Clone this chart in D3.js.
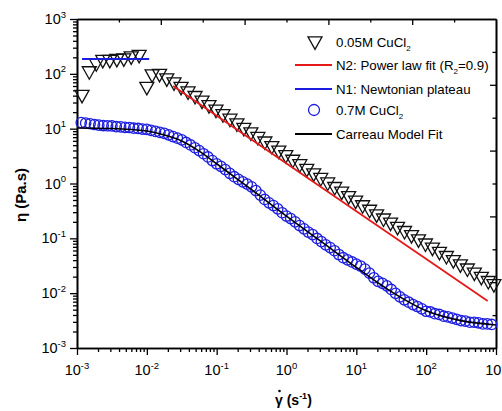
<!DOCTYPE html>
<html>
<head>
<meta charset="utf-8">
<script src="https://d3js.org/d3.v7.min.js"></script>
<style>
  html, body { margin: 0; padding: 0; background: #fff; }
  svg { display: block; }
  text { font-family: Arial, "Liberation Sans", sans-serif; fill: #000; }
</style>
</head>
<body>
<svg id="chart" width="502" height="411"></svg>
<script>
// ---- Data -------------------------------------------------------------
// 0.05M CuCl2: shear rate (1/s) and viscosity (Pa.s)
const triGamma = [0.00118, 0.0015, 0.00189, 0.00234, 0.00295, 0.00372, 0.00468, 0.00597, 0.00776,
  0.0100, 0.0119, 0.0152, 0.0193, 0.0245, 0.0309, 0.0389, 0.049, 0.0617, 0.0776, 0.0977,
  0.123, 0.155, 0.195, 0.245, 0.309, 0.389, 0.49, 0.617, 0.776, 0.977, 1.23, 1.55, 1.95,
  2.45, 3.09, 3.89, 4.9, 6.17, 7.76, 9.77, 12.3, 15.5, 19.5, 24.5, 30.9, 38.9, 49, 61.7,
  77.6, 97.7, 123, 155, 195, 245, 309, 389, 490, 617, 776, 933];
const triEta = [42, 113, 158, 182, 182, 190, 194, 211, 225,
  58.7, 99, 101, 84, 71, 58.6, 48.4, 40.0, 33.0, 27.3, 22.5,
  18.6, 15.4, 12.7, 10.5, 8.67, 7.16, 5.92, 4.89, 4.04, 3.33, 2.75, 2.28, 1.88,
  1.55, 1.28, 1.06, 0.875, 0.723, 0.597, 0.493, 0.407, 0.337, 0.278, 0.233, 0.196, 0.164, 0.138, 0.116,
  0.0973, 0.0817, 0.0685, 0.0575, 0.0483, 0.0406, 0.034, 0.0286, 0.024, 0.0201, 0.0169, 0.0148];

// 0.7M CuCl2: shear rate (1/s) and viscosity (Pa.s)
const circGamma = [0.00115, 0.00133, 0.00154, 0.00178, 0.00205, 0.00237, 0.00274, 0.00316, 0.00365,
  0.00422, 0.00487, 0.00562, 0.00649, 0.0075, 0.00866, 0.01, 0.0115, 0.0133, 0.0154, 0.0178,
  0.0205, 0.0237, 0.0274, 0.0316, 0.0365, 0.0422, 0.0487, 0.0562, 0.0649, 0.075, 0.0866, 0.1,
  0.115, 0.133, 0.154, 0.178, 0.205, 0.237, 0.274, 0.316, 0.365, 0.422, 0.487, 0.562, 0.649,
  0.75, 0.866, 1, 1.15, 1.33, 1.54, 1.78, 2.05, 2.37, 2.74, 3.16, 3.65, 4.22, 4.87, 5.62,
  6.49, 7.5, 8.66, 10, 11.5, 13.3, 15.4, 17.8, 20.5, 23.7, 27.4, 31.6, 36.5, 42.2, 48.7,
  56.2, 64.9, 75, 86.6, 100, 115, 133, 154, 178, 205, 237, 274, 316, 365, 422, 487, 562,
  649, 750, 866];
const circEta = [12.9, 12.6, 12.3, 11.9, 11.6, 11.4, 11.3, 11.2, 10.9,
  10.8, 10.6, 10.5, 10.2, 10.1, 9.84, 9.70, 9.31, 8.91, 8.55, 8.20,
  7.71, 7.16, 6.71, 6.24, 5.61, 5.05, 4.49, 3.98, 3.49, 3.05, 2.62, 2.29,
  2.05, 1.79, 1.53, 1.33, 1.19, 1.07, 0.975, 0.871, 0.741, 0.615, 0.512, 0.445, 0.396,
  0.345, 0.293, 0.255, 0.229, 0.200, 0.171, 0.149, 0.130, 0.117, 0.0995, 0.0871, 0.0761, 0.0679, 0.0594, 0.0507,
  0.0443, 0.0405, 0.0371, 0.0339, 0.0313, 0.0275, 0.0232, 0.0191, 0.0164, 0.0151, 0.0136, 0.0117, 0.00991, 0.00855, 0.00757,
  0.00684, 0.00618, 0.00571, 0.00518, 0.00468, 0.00454, 0.00422, 0.00409, 0.0038, 0.00369, 0.00351, 0.00333, 0.00316, 0.00309, 0.00295, 0.00295, 0.00288,
  0.00275, 0.00275, 0.00269];

// N2: power-law fit line (end points)
const powerGamma = [0.0238, 760];
const powerEta = [60, 0.0072];

// N1: Newtonian plateau
const plateauGamma = [0.00118, 0.0108];
const plateauEta = [186, 186];

// Carreau model fit curve
const carreauGamma = [0.001, 0.00316, 0.01, 0.0178, 0.0316, 0.0562, 0.1, 0.316, 1, 3.16, 10, 31.6, 100, 316, 1000];
const carreauEta = [10.3, 10.1, 9.06, 7.65, 5.96, 3.89, 2.29, 0.776, 0.255, 0.0871, 0.0295, 0.0107, 0.00479, 0.00316, 0.00263];

// Axis decades
const decades = [-3, -2, -1, 0, 1, 2, 3];

// Legend entries
const legendItems = [
  { kind: "tri", text: "0.05M CuCl", sub: "2", tail: "" },
  { kind: "line", color: "#e61919", text: "N2: Power law fit (R", sub: "2", tail: "=0.9)" },
  { kind: "line", color: "#1d1de0", text: "N1: Newtonian plateau", sub: "", tail: "" },
  { kind: "circ", text: "0.7M CuCl", sub: "2", tail: "" },
  { kind: "line", color: "#000", text: "Carreau Model Fit", sub: "", tail: "" }
];

// ---- Layout -----------------------------------------------------------
const svg = d3.select("#chart");
const pLeft = 77, pRight = 496, pTop = 19, pBottom = 348;

const x = d3.scaleLog().domain([1e-3, 1e3]).range([pLeft, pRight]);
const y = d3.scaleLog().domain([1e-3, 1e3]).range([pBottom, pTop]);

const minorVals = [];
decades.slice(0, -1).forEach(d => { for (let m = 2; m <= 9; m++) minorVals.push(m * Math.pow(10, d)); });
const majorVals = decades.map(d => Math.pow(10, d));

const blue = "#1d1de0";
const red = "#e61919";

// ---- Axes -------------------------------------------------------------
const axisW = 1.6;
function styleAxis(g) {
  g.selectAll("path.domain").attr("stroke", "#000").attr("stroke-width", axisW);
  g.selectAll(".tick line").attr("stroke", "#000").attr("stroke-width", 1.3);
  g.selectAll(".tick text").remove();
}

// bottom
svg.append("g").attr("transform", `translate(0,${pBottom})`)
  .call(d3.axisBottom(x).tickValues(majorVals).tickSize(7).tickSizeOuter(0).tickFormat(""))
  .call(styleAxis);
svg.append("g").attr("transform", `translate(0,${pBottom})`)
  .call(d3.axisBottom(x).tickValues(minorVals).tickSize(4).tickSizeOuter(0).tickFormat(""))
  .call(styleAxis);
// left
svg.append("g").attr("transform", `translate(${pLeft},0)`)
  .call(d3.axisLeft(y).tickValues(majorVals).tickSize(7).tickSizeOuter(0).tickFormat(""))
  .call(styleAxis);
svg.append("g").attr("transform", `translate(${pLeft},0)`)
  .call(d3.axisLeft(y).tickValues(minorVals).tickSize(4).tickSizeOuter(0).tickFormat(""))
  .call(styleAxis);

// top and right: independent linear frame scales with 10 divisions, ticks inward
const xTop = d3.scaleLinear().domain([0, 10]).range([pLeft, pRight]);
const yRight = d3.scaleLinear().domain([0, 10]).range([pBottom, pTop]);
const frameMajor = [2, 4, 6, 8];
const frameMinor = [1, 3, 5, 7, 9];
svg.append("g").attr("transform", `translate(0,${pTop})`)
  .call(d3.axisTop(xTop).tickValues(frameMajor).tickSize(-6).tickSizeOuter(0).tickFormat(""))
  .call(styleAxis);
svg.append("g").attr("transform", `translate(0,${pTop})`)
  .call(d3.axisTop(xTop).tickValues(frameMinor).tickSize(-3.5).tickSizeOuter(0).tickFormat(""))
  .call(styleAxis);
svg.append("g").attr("transform", `translate(${pRight},0)`)
  .call(d3.axisRight(yRight).tickValues(frameMajor).tickSize(-6).tickSizeOuter(0).tickFormat(""))
  .call(styleAxis);
svg.append("g").attr("transform", `translate(${pRight},0)`)
  .call(d3.axisRight(yRight).tickValues(frameMinor).tickSize(-3.5).tickSizeOuter(0).tickFormat(""))
  .call(styleAxis);

// tick labels with superscript exponents
const xLab = svg.append("g").selectAll("text").data(decades).join("text")
  .attr("x", d => x(Math.pow(10, d)))
  .attr("y", 375)
  .attr("text-anchor", "middle")
  .style("font-size", "14.5px");
xLab.append("tspan").text("10");
xLab.append("tspan").attr("dy", -6.5).style("font-size", "9.5px").text(d => d);

const yLab = svg.append("g").selectAll("text").data(decades).join("text")
  .attr("x", 66)
  .attr("y", d => y(Math.pow(10, d)) + 5)
  .attr("text-anchor", "end")
  .style("font-size", "14.5px");
yLab.append("tspan").text("10");
yLab.append("tspan").attr("dy", -6.5).style("font-size", "9.5px").text(d => d);

// axis titles
svg.append("text")
  .attr("transform", "translate(26,195) rotate(-90)")
  .attr("text-anchor", "middle")
  .style("font-size", "15px").style("font-weight", "bold")
  .text("η (Pa.s)");

const xt = svg.append("text").attr("x", 275).attr("y", 405)
  .style("font-size", "14px").style("font-weight", "bold");
xt.append("tspan").text("γ (s");
xt.append("tspan").attr("dy", -6).style("font-size", "9px").text("-1");
xt.append("tspan").attr("dy", 6).text(")");
// dot over the gamma (rate)
svg.append("circle").attr("cx", 279.5).attr("cy", 391).attr("r", 1.3).attr("fill", "#000");

// ---- Marks ------------------------------------------------------------
const triW = 14, triH = 12.5;
function triPath(cx, cy) {
  const t = cy - triH / 3, b = cy + 2 * triH / 3;
  return `M${cx - triW / 2},${t}L${cx + triW / 2},${t}L${cx},${b}Z`;
}

const plot = svg.append("g");

// 0.05M triangles
plot.append("g").selectAll("path").data(d3.range(triGamma.length)).join("path")
  .attr("d", i => triPath(x(triGamma[i]), y(triEta[i])))
  .attr("fill", "none").attr("stroke", "#111").attr("stroke-width", 1.3)
  .attr("stroke-linejoin", "miter");

const line = d3.line().x(d => x(d[0])).y(d => y(d[1]));

// power-law fit
plot.append("path").datum(d3.zip(powerGamma, powerEta))
  .attr("d", line).attr("fill", "none").attr("stroke", red).attr("stroke-width", 1.8);

// Newtonian plateau
plot.append("path").datum(d3.zip(plateauGamma, plateauEta))
  .attr("d", line).attr("fill", "none").attr("stroke", blue).attr("stroke-width", 2);

// 0.7M circles
plot.append("g").selectAll("circle").data(d3.range(circGamma.length)).join("circle")
  .attr("cx", i => x(circGamma[i])).attr("cy", i => y(circEta[i])).attr("r", 5.2)
  .attr("fill", "none").attr("stroke", blue).attr("stroke-width", 1.3);

// Carreau fit
plot.append("path").datum(d3.zip(carreauGamma, carreauEta))
  .attr("d", d3.line().x(d => x(d[0])).y(d => y(d[1])).curve(d3.curveMonotoneX))
  .attr("fill", "none").attr("stroke", "#000").attr("stroke-width", 1.6);

// ---- Legend -----------------------------------------------------------
const legY = [42, 65, 89, 110, 134];
const leg = svg.append("g");
legendItems.forEach((it, i) => {
  const cy = legY[i];
  if (it.kind === "tri") {
    leg.append("path").attr("d", triPath(315, cy - 1)).attr("fill", "none")
      .attr("stroke", "#111").attr("stroke-width", 1.3);
  } else if (it.kind === "circ") {
    leg.append("circle").attr("cx", 314).attr("cy", cy).attr("r", 5.5)
      .attr("fill", "none").attr("stroke", blue).attr("stroke-width", 1.3);
  } else {
    leg.append("line").attr("x1", 295).attr("x2", 332).attr("y1", cy).attr("y2", cy)
      .attr("stroke", it.color).attr("stroke-width", 1.8);
  }
  const t = leg.append("text").attr("x", 336).attr("y", cy + 4.5).style("font-size", "13.3px");
  t.append("tspan").text(it.text);
  if (it.sub) t.append("tspan").attr("dy", 4).style("font-size", "8px").text(it.sub);
  if (it.tail) t.append("tspan").attr("dy", -4).text(it.tail);
});
</script>
</body>
</html>
